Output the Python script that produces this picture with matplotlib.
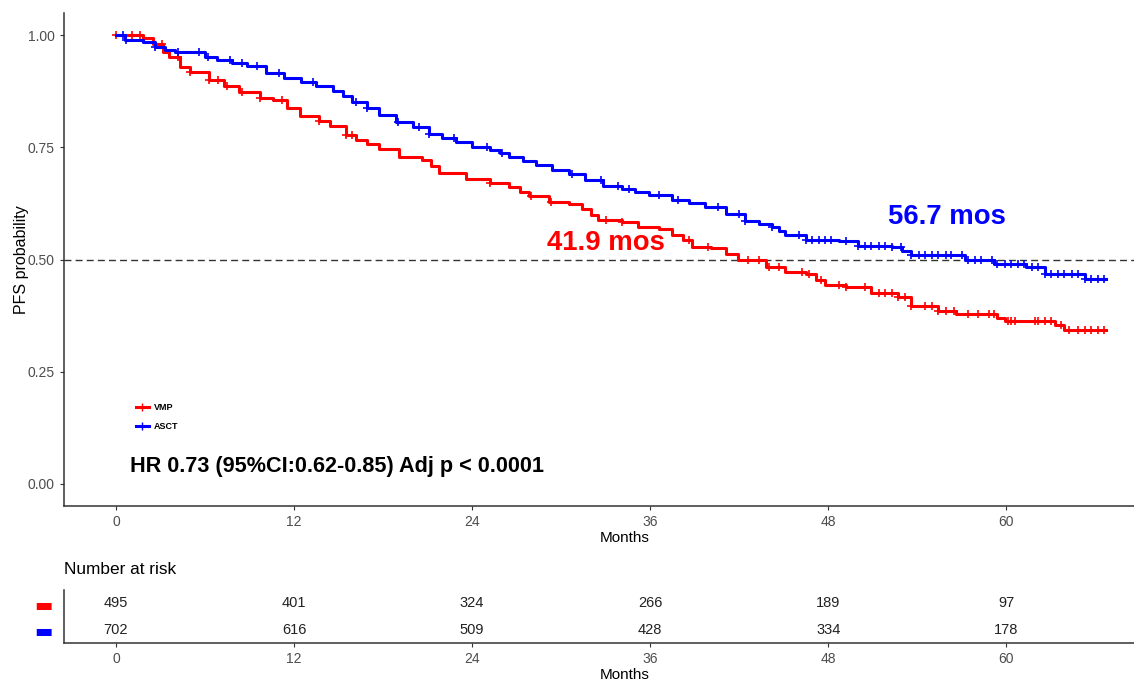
import numpy as np
import matplotlib
matplotlib.use("Agg")
import matplotlib.pyplot as plt
from matplotlib.lines import Line2D

plt.rcParams["font.family"] = ["Liberation Sans", "DejaVu Sans"]

# ---------------------------------------------------------------------------
# Data
# ---------------------------------------------------------------------------
asct_t = [0, 0.6, 1.8, 2.6, 3.3, 4.0, 6.0, 6.8, 7.8, 8.8, 10.1, 11.3, 12.5, 13.5,
          14.6, 15.3, 15.9, 16.9, 17.7, 18.9, 20.0, 21.1, 22.0, 22.9, 24.0, 25.2,
          25.9, 26.5, 27.4, 28.3, 29.4, 30.5, 31.6, 32.8, 34.1, 35.0, 35.9, 37.5,
          38.6, 39.7, 41.1, 42.4, 43.3, 44.2, 44.7, 45.1, 46.5, 48.7, 50.0, 52.3,
          53.0, 53.6, 56.3, 57.2, 59.2, 61.3, 62.6, 65.3, 66.7]
asct_s = [1.0, 0.990, 0.985, 0.975, 0.968, 0.963, 0.952, 0.945, 0.938, 0.932, 0.916,
          0.906, 0.897, 0.888, 0.877, 0.865, 0.851, 0.837, 0.822, 0.807, 0.795, 0.781,
          0.772, 0.762, 0.752, 0.745, 0.737, 0.728, 0.719, 0.710, 0.700, 0.691, 0.678,
          0.665, 0.658, 0.650, 0.643, 0.632, 0.625, 0.617, 0.602, 0.587, 0.580, 0.572,
          0.563, 0.554, 0.544, 0.542, 0.531, 0.527, 0.518, 0.511, 0.509, 0.499, 0.489,
          0.483, 0.468, 0.457, 0.457]

vmp_t = [0, 1.8, 2.5, 3.2, 3.6, 4.3, 5.0, 6.3, 7.3, 8.3, 9.7, 10.6, 11.5, 12.4, 13.7,
         14.4, 15.5, 16.2, 16.9, 17.7, 19.1, 20.6, 21.2, 21.8, 23.6, 25.2, 26.5, 27.2,
         27.8, 29.2, 30.5, 31.4, 32.0, 32.5, 34.1, 35.2, 36.6, 37.5, 38.2, 38.8, 40.1,
         41.1, 41.9, 42.4, 43.8, 45.1, 46.5, 47.2, 47.8, 49.2, 50.9, 52.7, 53.6, 55.4,
         56.6, 59.4, 59.9, 63.3, 63.9, 66.7]
vmp_s = [1.0, 0.995, 0.980, 0.963, 0.952, 0.930, 0.918, 0.900, 0.888, 0.873, 0.861,
         0.855, 0.839, 0.821, 0.810, 0.797, 0.777, 0.766, 0.758, 0.747, 0.728, 0.721,
         0.708, 0.693, 0.680, 0.670, 0.661, 0.650, 0.641, 0.628, 0.624, 0.613, 0.600,
         0.589, 0.583, 0.572, 0.569, 0.554, 0.543, 0.529, 0.526, 0.513, 0.500, 0.498,
         0.483, 0.472, 0.467, 0.455, 0.442, 0.438, 0.425, 0.416, 0.397, 0.386, 0.379,
         0.370, 0.362, 0.353, 0.343, 0.343]

asct_cens = [0.5, 0.7, 2.6, 4.2, 5.6, 6.2, 7.7, 8.5, 9.5, 11.0, 13.3, 16.2, 16.9,
             19.0, 20.4, 21.1, 22.8, 25.0, 26.0, 30.7, 32.7, 33.8, 34.6, 36.6, 37.9,
             40.6, 42.0, 42.4, 44.2, 46.0, 46.5, 46.9, 47.4, 47.8, 48.2, 49.2, 50.0,
             50.5, 50.9, 51.4, 51.8, 52.3, 52.9, 53.6, 54.1, 54.5, 55.0, 55.4, 55.9,
             56.3, 57.0, 57.4, 57.9, 58.3, 59.0, 59.4, 59.9, 60.3, 60.8, 61.2, 61.7,
             62.1, 62.6, 63.0, 63.5, 63.9, 64.4, 64.8, 65.3, 65.7, 66.2, 66.6]
vmp_cens = [0.0, 1.1, 1.6, 3.1, 4.2, 5.0, 6.3, 6.9, 7.5, 8.5, 9.7, 11.2, 13.7, 15.5,
            15.9, 25.2, 28.0, 29.3, 33.0, 34.1, 38.6, 39.9, 42.6, 43.3, 44.0, 44.7,
            46.2, 46.7, 47.5, 48.7, 49.2, 50.5, 51.4, 51.8, 52.3, 52.7, 53.2, 53.6,
            54.5, 55.0, 55.4, 55.9, 56.5, 57.4, 58.1, 58.8, 59.2, 60.1, 60.3, 60.6,
            61.9, 62.1, 62.6, 63.0, 63.7, 64.2, 64.8, 65.3, 65.7, 66.2, 66.6]

risk_times = [0, 12, 24, 36, 48, 60]
vmp_risk = [495, 401, 324, 266, 189, 97]
asct_risk = [702, 616, 509, 428, 334, 178]

median_vmp = 41.9
median_asct = 56.7

RED = "#FF0000"
BLUE = "#0000FF"
AXCOL = "#333333"
TICKCOL = "#4D4D4D"

W, H = 1134, 682


def step_value(times, surv, t):
    idx = np.searchsorted(times, t, side="right") - 1
    return np.asarray(surv)[np.clip(idx, 0, len(surv) - 1)]


def style_axes(ax):
    for side in ("top", "right"):
        ax.spines[side].set_visible(False)
    for side in ("left", "bottom"):
        ax.spines[side].set_color(AXCOL)
        ax.spines[side].set_linewidth(1.1)
    ax.tick_params(colors=AXCOL, labelcolor=TICKCOL, labelsize=10, length=3, width=0.8)


fig = plt.figure(figsize=(W / 100, H / 100), dpi=100)

# ---------------------------------------------------------------------------
# KM panel
# ---------------------------------------------------------------------------
ax = fig.add_axes([64 / W, 1 - 506 / H, (W - 64) / W, 493 / H])
style_axes(ax)

ax.axhline(0.5, color=AXCOL, linestyle=(0, (5, 3)), linewidth=1.0, zorder=1)

for t, s, cens, col in ((vmp_t, vmp_s, vmp_cens, RED), (asct_t, asct_s, asct_cens, BLUE)):
    ax.step(t, s, where="post", color=col, linewidth=2.2, zorder=3)
    ax.plot(cens, step_value(t, s, cens), linestyle="none", marker="+",
            markersize=6, markeredgewidth=1.2, color=col, zorder=3)

ax.set_xlim(-3.5, 68.6)
ax.set_ylim(-0.05, 1.05)
ax.set_xticks(risk_times)
ax.set_yticks([0, 0.25, 0.5, 0.75, 1.0])
ax.set_yticklabels(["0.00", "0.25", "0.50", "0.75", "1.00"])

ax.set_ylabel("PFS probability", fontsize=11.5, color="black")
ax.yaxis.set_label_coords(-(64 - 29) / (W - 64), 0.5)
ax.set_xlabel("Months", fontsize=11, color="black")
ax.xaxis.set_label_coords((625 - 64) / (W - 64), -25 / 493)

ax.text(median_vmp - 8.9, 0.536, f"{median_vmp} mos", color=RED, fontsize=19.8,
        fontweight="bold", ha="center", va="center")
ax.text(median_asct - 0.7, 0.594, f"{median_asct} mos", color=BLUE, fontsize=19.8,
        fontweight="bold", ha="center", va="center")
ax.text(0.95, 0.038, "HR 0.73 (95%CI:0.62-0.85) Adj p < 0.0001", fontsize=15.6,
        fontweight="bold", ha="left", va="center")

handles = [Line2D([], [], color=RED, linewidth=2.2, marker="+", markersize=6),
           Line2D([], [], color=BLUE, linewidth=2.2, marker="+", markersize=6)]
ax.legend(handles, ["VMP", "ASCT"], loc="center left",
          bbox_to_anchor=((136 - 64) / (W - 64), (506 - 417) / 493),
          frameon=False, prop={"size": 6.5, "weight": "bold"},
          handlelength=1.4, handletextpad=0.6, labelspacing=1.1,
          borderpad=0, borderaxespad=0)

# ---------------------------------------------------------------------------
# Number at risk table
# ---------------------------------------------------------------------------
axr = fig.add_axes([64 / W, 1 - 643 / H, (W - 64) / W, 53 / H])
style_axes(axr)
axr.set_xlim(ax.get_xlim())
axr.set_ylim(0.5, 2.5)
axr.set_xticks(risk_times)
for x, a, b in zip(risk_times, vmp_risk, asct_risk):
    axr.text(x, 2, str(a), ha="center", va="center", fontsize=10.5, color="#222222")
    axr.text(x, 1, str(b), ha="center", va="center", fontsize=10.5, color="#222222")
axr.set_yticks([2, 1])
axr.set_yticklabels(["▬", "▬"], fontsize=14, family="DejaVu Sans")
for lab, col in zip(axr.get_yticklabels(), (RED, BLUE)):
    lab.set_color(col)
axr.tick_params(axis="y", length=0, pad=8)
axr.set_xlabel("Months", fontsize=11, color="black")
axr.xaxis.set_label_coords((625 - 64) / (W - 64), -25 / 53)

fig.text(64 / W, 1 - 570 / H, "Number at risk", fontsize=12.4, ha="left", va="center")

fig.savefig("out.png", dpi=100)
